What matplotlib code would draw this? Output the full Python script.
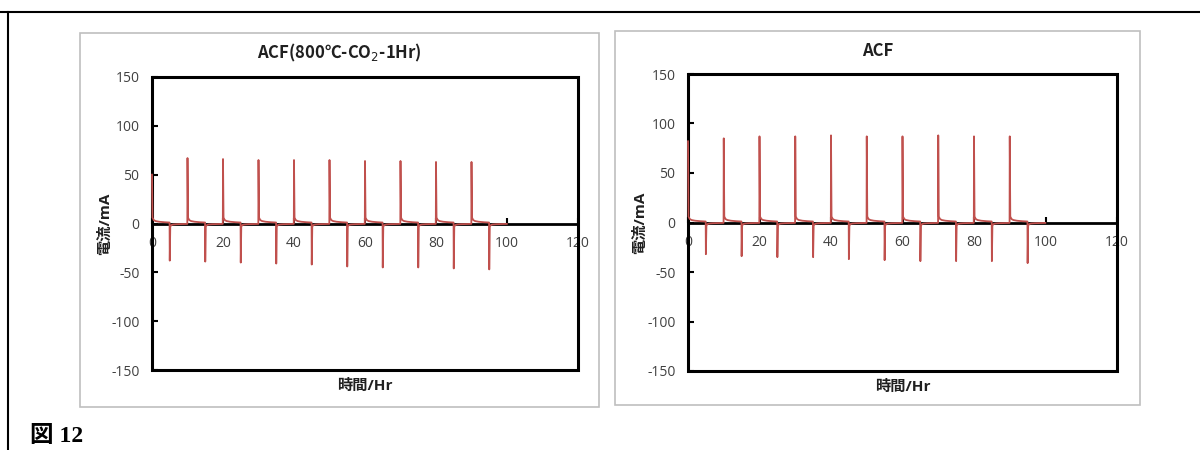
import matplotlib.pyplot as plt
from matplotlib.patches import Rectangle
import numpy as np

plt.rcParams['font.family'] = ['Open Sans', 'Noto Sans CJK JP', 'DejaVu Sans']
plt.rcParams['axes.unicode_minus'] = False

# charge spikes (every 10 hr) and discharge spikes (5 hr later), mA
pos_times = [0, 10, 20, 30, 40, 50, 60, 70, 80, 90]
neg_times = [5, 15, 25, 35, 45, 55, 65, 75, 85, 95]

co2_pos_peaks = [50, 67, 66, 65, 65, 65, 64, 64, 63, 63]
co2_neg_peaks = [-38, -39, -40, -41, -42, -44, -45, -45, -46, -47]

acf_pos_peaks = [82, 85, 87, 87, 88, 87, 87, 88, 87, 87]
acf_neg_peaks = [-32, -34, -35, -35, -37, -38, -39, -39, -39, -41]

# relaxation after each spike (hours after spike, mA)
tail_t = [0.15, 0.5, 1.0, 2.0, 3.5, 4.95]
tail_pos = [6.0, 3.5, 2.5, 1.8, 1.3, 1.0]
tail_neg = [-3.0, -1.5, -1.0, -0.7, -0.5, -0.4]

x_ticks = [0, 20, 40, 60, 80, 100, 120]
y_ticks = [-150, -100, -50, 0, 50, 100, 150]

RED = '#C0504D'
TXT = '#404040'


def build_trace(pos_peaks, neg_peaks):
    t, y = [], []
    for tp, pp, tn, npk in zip(pos_times, pos_peaks, neg_times, neg_peaks):
        t.append(tp)
        y.append(pp)
        t += [tp + d for d in tail_t]
        y += tail_pos
        t.append(tn)
        y.append(npk)
        t += [tn + d for d in tail_t]
        y += tail_neg
    return np.array(t), np.array(y)


def draw_panel(fig, panel_rect, ax_rect, title, pos_peaks, neg_peaks):
    # light gray panel frame
    fig.patches.append(Rectangle((panel_rect[0], panel_rect[1]),
                                 panel_rect[2], panel_rect[3],
                                 transform=fig.transFigure, fill=False,
                                 edgecolor='#BFBFBF', lw=1.2))
    fig.text(panel_rect[0] + panel_rect[2] / 2, panel_rect[1] + panel_rect[3] - 0.045,
             title, ha='center', va='center', fontsize=12, fontweight='bold',
             color='#202020', family=['Noto Sans CJK JP', 'DejaVu Sans'])

    ax = fig.add_axes(ax_rect)
    t, y = build_trace(pos_peaks, neg_peaks)
    ax.plot(t, y, color=RED, lw=1.3, zorder=5, clip_on=False)

    ax.set_xlim(0, 120)
    ax.set_ylim(-150, 150)
    ax.set_xticks(x_ticks)
    ax.set_yticks(y_ticks)

    for s in ['top', 'right', 'left']:
        ax.spines[s].set_visible(False)
    ax.spines['bottom'].set_position(('data', 0))
    ax.spines['bottom'].set_linewidth(2)
    ax.add_patch(Rectangle((0, 0), 1, 1, transform=ax.transAxes, fill=False,
                           edgecolor='black', lw=2.2, clip_on=False, zorder=4))

    ax.tick_params(axis='y', direction='in', length=4, width=1.5,
                   labelsize=10, labelcolor=TXT, pad=9)
    ax.tick_params(axis='x', direction='in', length=4, width=1.5,
                   labelsize=10, labelcolor=TXT, pad=9)

    ax.set_xlabel('時間/Hr', fontsize=11, fontweight='bold', color='#202020')
    ax.xaxis.set_label_coords(0.5, -0.03)
    ax.set_ylabel('電流/mA', fontsize=11, fontweight='bold', color='#202020')
    ax.yaxis.set_label_coords(-0.095, 0.5)
    return ax


fig = plt.figure(figsize=(12, 4.5), dpi=100)

# outer page frame
fig.add_artist(plt.Line2D([0, 1], [1 - 12 / 450, 1 - 12 / 450],
                          transform=fig.transFigure, color='black', lw=1.5))
fig.add_artist(plt.Line2D([8 / 1200, 8 / 1200], [0, 1 - 12 / 450],
                          transform=fig.transFigure, color='black', lw=1.5))

draw_panel(fig, (80 / 1200, 1 - 407 / 450, 519 / 1200, 374 / 450),
           (152 / 1200, 1 - 370 / 450, 426 / 1200, 293 / 450),
           'ACF(800℃-CO$_2$-1Hr)', co2_pos_peaks, co2_neg_peaks)
draw_panel(fig, (615 / 1200, 1 - 405 / 450, 525 / 1200, 374 / 450),
           (688 / 1200, 1 - 371 / 450, 429 / 1200, 297 / 450),
           'ACF', acf_pos_peaks, acf_neg_peaks)

fig.text(30 / 1200, 1 - 436 / 450, '図 12', fontsize=17, fontweight='bold',
         family=['Liberation Serif', 'Noto Sans CJK JP'], va='center')

plt.savefig('out.png', dpi=100)
